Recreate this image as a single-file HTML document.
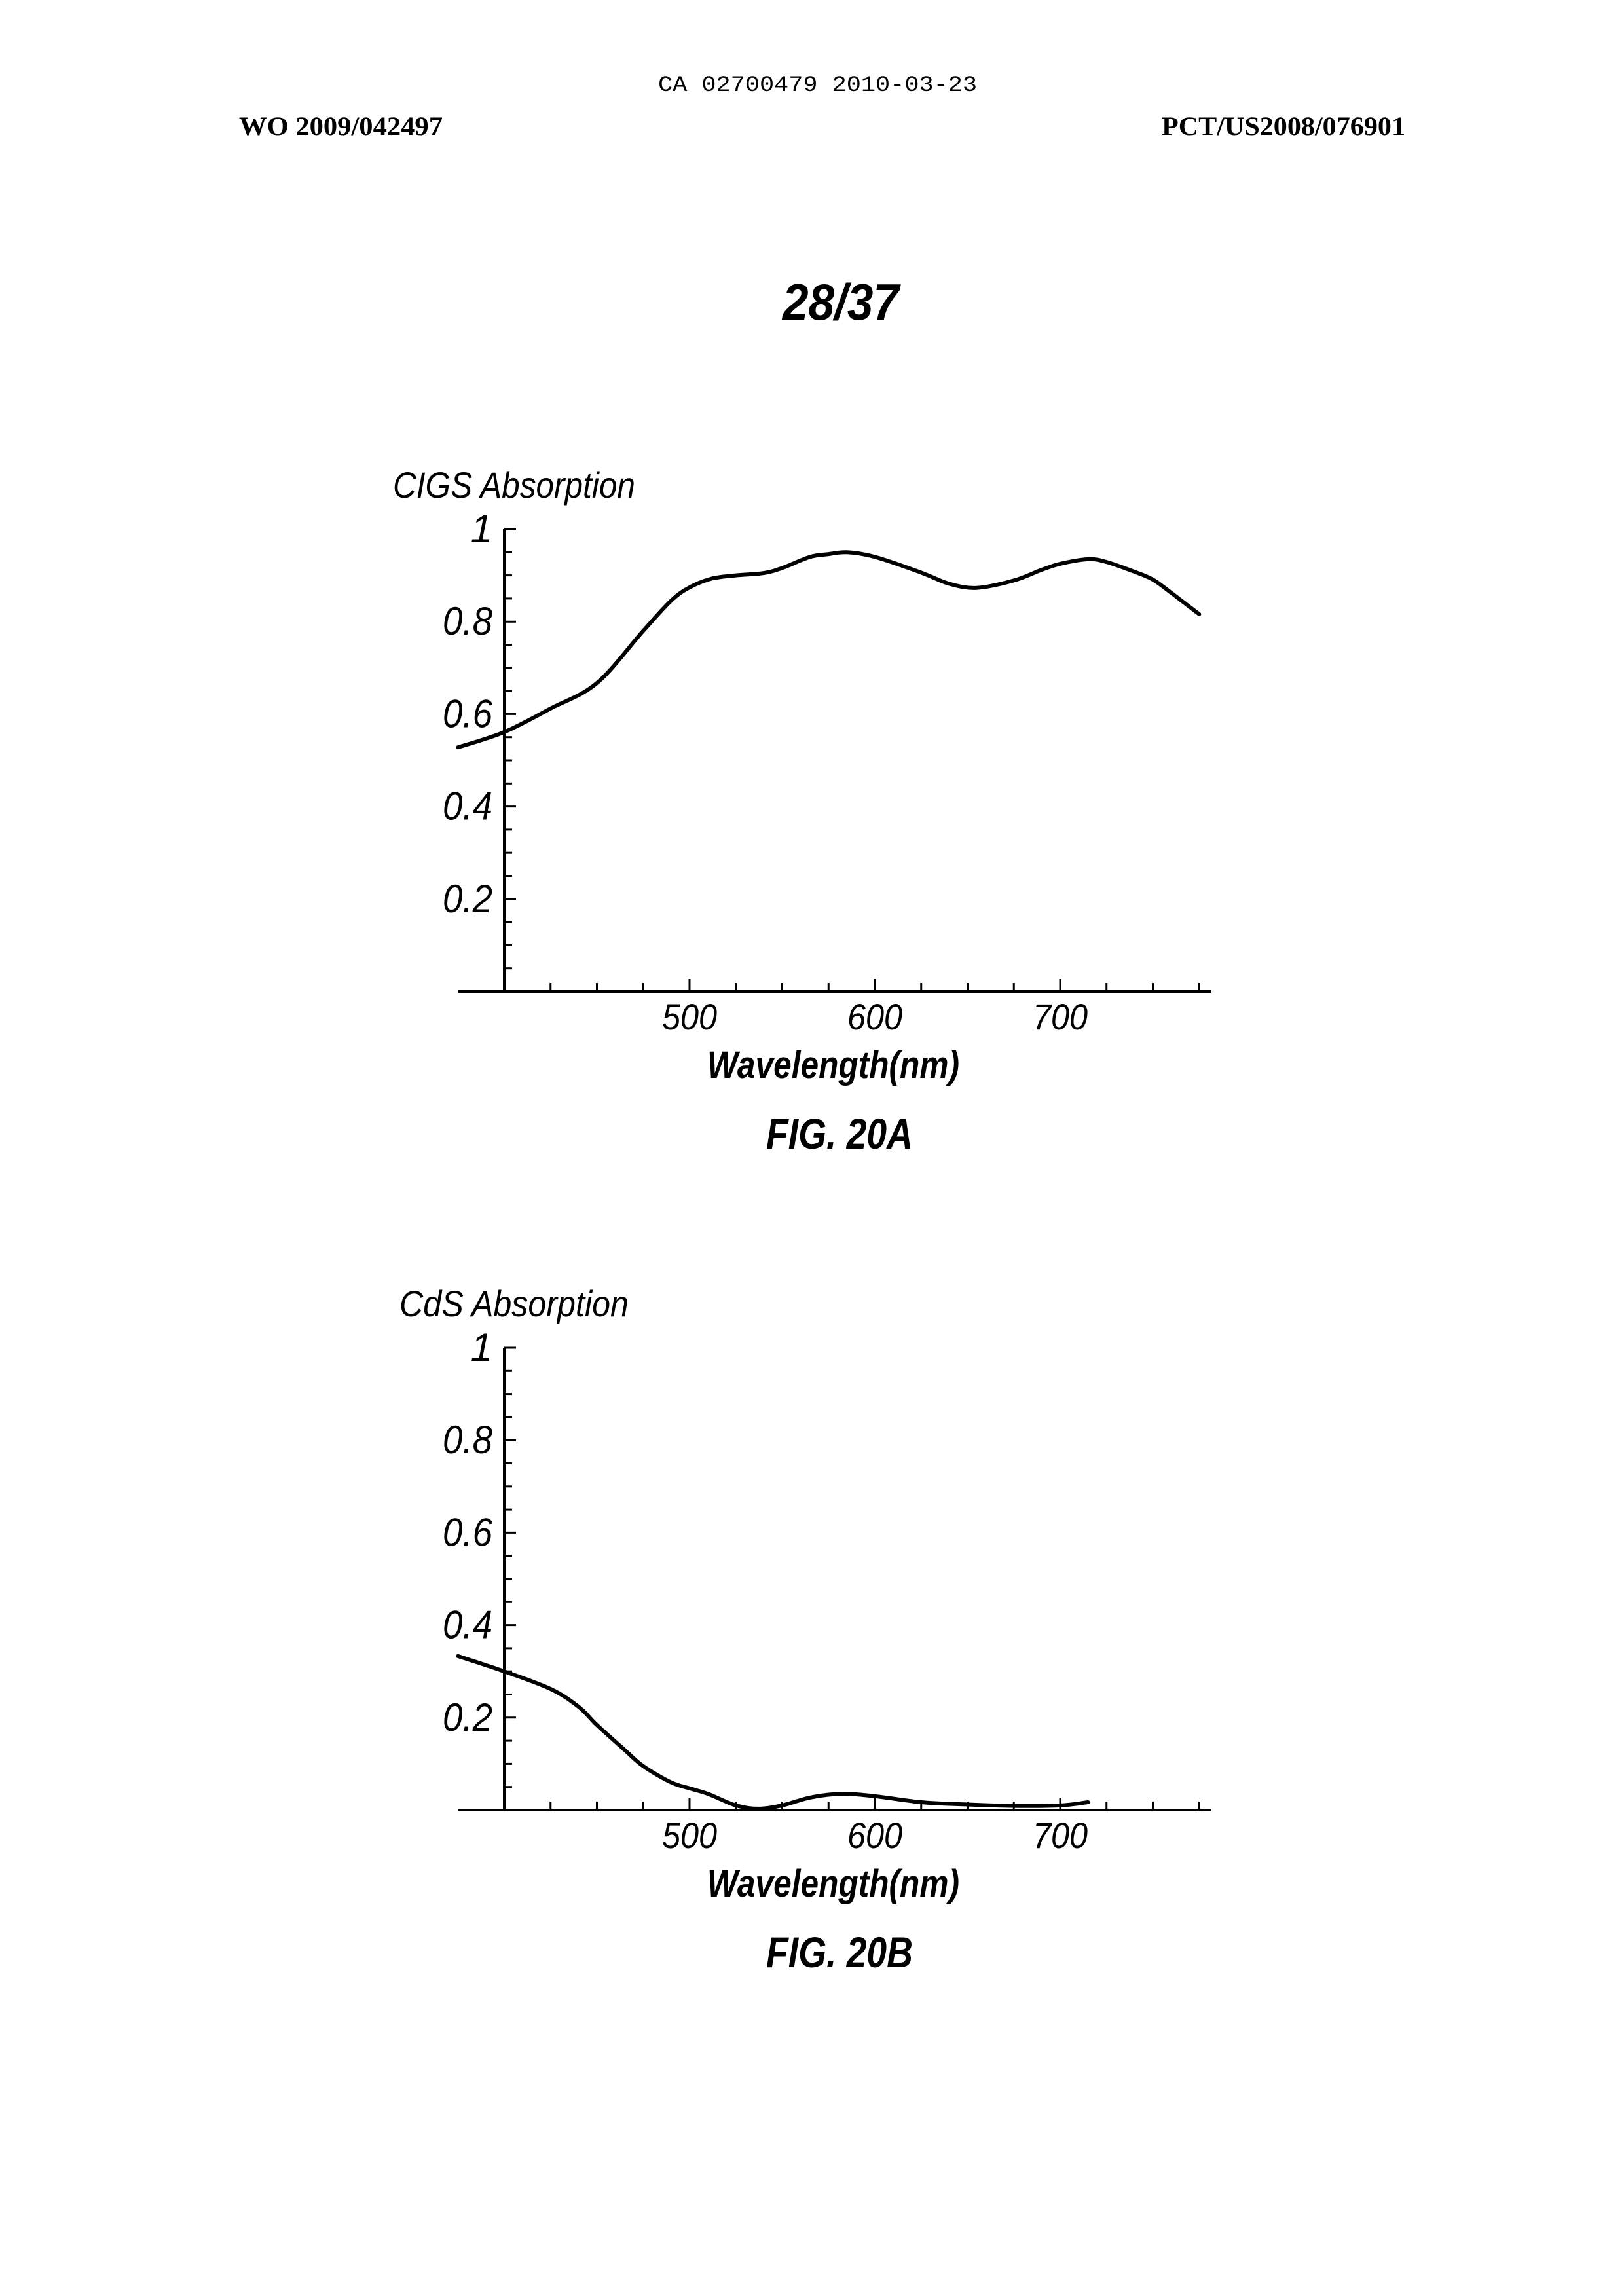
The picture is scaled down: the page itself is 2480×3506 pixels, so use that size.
<!DOCTYPE html>
<html><head><meta charset="utf-8"><style>
html,body{margin:0;padding:0;background:#fff}
svg{display:block}
</style></head><body>
<svg width="2480" height="3506" viewBox="0 0 2480 3506" xmlns="http://www.w3.org/2000/svg">
<text x="1005" y="139" font-family="Liberation Mono, monospace" font-size="34" textLength="487" lengthAdjust="spacingAndGlyphs">CA 02700479 2010-03-23</text>
<text x="365" y="206" font-family="Liberation Serif, serif" font-weight="bold" font-size="40" textLength="311" lengthAdjust="spacingAndGlyphs">WO 2009/042497</text>
<text x="1774" y="206" font-family="Liberation Serif, serif" font-weight="bold" font-size="40" textLength="372" lengthAdjust="spacingAndGlyphs">PCT/US2008/076901</text>
<text x="1195" y="488" font-family="Liberation Sans, sans-serif" font-weight="bold" font-style="italic" font-size="78" textLength="178" lengthAdjust="spacingAndGlyphs">28/37</text>
<g id="chartA"></g>
<g id="chartB"></g>
</svg>
<script>
const cigsWavelengths=[375,400,425,450,475,490,500,512,525,540,550,565,575,585,600,625,640,655,675,690,700,715,725,740,750,760,775];
const cigsValues=[0.528,0.561,0.612,0.667,0.78,0.845,0.874,0.893,0.9,0.905,0.916,0.94,0.946,0.95,0.94,0.906,0.882,0.873,0.889,0.912,0.925,0.935,0.929,0.908,0.891,0.862,0.816];
const cdsWavelengths=[375,400,425,440,450,465,475,490,500,510,525,537,550,565,582,600,625,650,675,700,715];
const cdsValues=[0.333,0.30,0.262,0.224,0.184,0.13,0.095,0.06,0.047,0.035,0.01,0.003,0.01,0.027,0.035,0.03,0.017,0.012,0.009,0.01,0.017];
const xTickLabels=[500,600,700];
const yTickLabels=["0.2","0.4","0.6","0.8","1"];
const yTickValues=[0.2,0.4,0.6,0.8,1];
const NS="http://www.w3.org/2000/svg";
function mk(tag,attrs,parent){const e=document.createElementNS(NS,tag);for(const k in attrs)e.setAttribute(k,attrs[k]);parent.appendChild(e);return e;}
function smooth(pts){let d='M'+pts[0][0].toFixed(1)+','+pts[0][1].toFixed(1);
  for(let i=0;i<pts.length-1;i++){const p0=pts[Math.max(0,i-1)],p1=pts[i],p2=pts[i+1],p3=pts[Math.min(pts.length-1,i+2)];
    const c1=[p1[0]+(p2[0]-p0[0])/6,p1[1]+(p2[1]-p0[1])/6],c2=[p2[0]-(p3[0]-p1[0])/6,p2[1]-(p3[1]-p1[1])/6];
    d+='C'+c1[0].toFixed(1)+','+c1[1].toFixed(1)+' '+c2[0].toFixed(1)+','+c2[1].toFixed(1)+' '+p2[0].toFixed(1)+','+p2[1].toFixed(1);}
  return d;}
function draw(g,off,xs,ys,title,titleX,titleW,fig){
  const X0=770;
  const xScale=v=>X0+(v-400)*2.83;
  const yScale=v=>1514+off-v*706;
  const y0=yScale(0);
  const ax=mk('line',{x1:X0,y1:y0,x2:X0,y2:yScale(1),stroke:'#000','stroke-width':4},g);
  
  
  const xa=mk('line',{x1:700,y1:y0,x2:1850,y2:y0,stroke:'#000','stroke-width':4},g);
  
  
  for(let i=1;i<=20;i++){const v=i*0.05;const y=yScale(v);const major=(i%4===0);
    const t=mk('line',{x1:X0,y1:y,x2:X0+(major?18:12),y2:y,stroke:'#000','stroke-width':3},g);
    
    }
  for(let w=425;w<=775;w+=25){const x=xScale(w);const major=(w%100===0);
    const t=mk('line',{x1:x,y1:y0,x2:x,y2:y0-(major?19:13),stroke:'#000','stroke-width':3},g);
    
    }
  yTickLabels.forEach((l,i)=>{const a={x:X0-18,y:yScale(yTickValues[i])+20,'text-anchor':'end','font-family':'Liberation Sans, sans-serif','font-style':'italic','font-size':60};
    if(l.length>1){a.textLength=76;a.lengthAdjust='spacingAndGlyphs';}
    const t=mk('text',a,g);
    t.textContent=l;
    
    });
  xTickLabels.forEach(l=>{const t=mk('text',{x:xScale(l),y:y0+58,'text-anchor':'middle','font-family':'Liberation Sans, sans-serif','font-style':'italic','font-size':56,textLength:84,lengthAdjust:'spacingAndGlyphs'},g);
    t.textContent=l;
    
    });
  const pts=xs.map((w,i)=>[xScale(w),yScale(ys[i])]);
  const p=mk('path',{d:smooth(pts),fill:'none',stroke:'#000','stroke-width':6,'stroke-linejoin':'round','stroke-linecap':'round'},g);
  
  
  const tt=mk('text',{x:titleX,y:760+off,'font-family':'Liberation Sans, sans-serif','font-style':'italic','font-size':56,textLength:titleW,lengthAdjust:'spacingAndGlyphs'},g);
  tt.textContent=title;
  
  
  const xt=mk('text',{x:1080,y:1646+off,'font-family':'Liberation Sans, sans-serif','font-style':'italic','font-weight':'bold','font-size':58,textLength:385,lengthAdjust:'spacingAndGlyphs'},g);
  xt.textContent='Wavelength(nm)';
  
  
  const ft=mk('text',{x:1170,y:1754+off,'font-family':'Liberation Sans, sans-serif','font-style':'italic','font-weight':'bold','font-size':66,textLength:224,lengthAdjust:'spacingAndGlyphs'},g);
  ft.textContent=fig;
  
  
}
draw(document.getElementById('chartA'),0,cigsWavelengths,cigsValues,'CIGS Absorption',600,370,'FIG. 20A');
draw(document.getElementById('chartB'),1250,cdsWavelengths,cdsValues,'CdS Absorption',610,350,'FIG. 20B');
</script>
</body></html>
